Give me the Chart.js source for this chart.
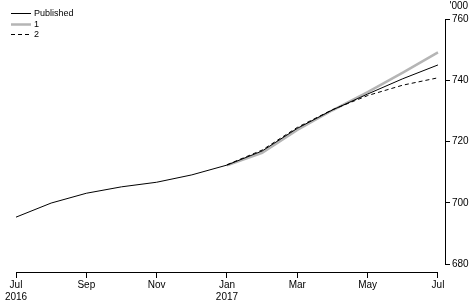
<!DOCTYPE html>
<html>
<head>
<meta charset="utf-8">
<script src="https://cdn.jsdelivr.net/npm/chart.js@4"></script>
<style>
  html, body { margin: 0; padding: 0; background: #fff; }
  #wrap { width: 472px; height: 302px; position: relative; }
</style>
</head>
<body>
<div id="wrap"><canvas id="chart"></canvas></div>
<script>
/* ---- data: monthly, Jul 2016 – Jul 2017 ('000) ---- */
const MONTHS    = ['Jul', 'Aug', 'Sep', 'Oct', 'Nov', 'Dec', 'Jan', 'Feb', 'Mar', 'Apr', 'May', 'Jun', 'Jul'];
const YEARS     = ['2016', '', '', '', '', '', '2017', '', '', '', '', '', ''];
const PUBLISHED = [695.3, 699.9, 703.1, 705.2, 706.7, 709.1, 712.3, 716.9, 724.3, 730.3, 735.5, 740.5, 745.0];
const SERIES_1  = [null, null, null, null, null, null, 712.2, 716.3, 723.8, 730.2, 736.1, 742.5, 749.1];
const SERIES_2  = [null, null, null, null, null, null, 712.4, 717.2, 724.6, 730.4, 735.0, 738.4, 740.8];
const Y_TICKS   = [680, 700, 720, 740, 760];
const X_TICKS   = [0, 2, 4, 6, 8, 10, 12];

const FONT = 'Arial, "Liberation Sans", sans-serif';
const pts = arr => arr.map((v, i) => ({ x: i, y: v }));

/* axis lines + legend + unit label */
const decor = {
  id: 'decor',
  afterDraw(chart) {
    const { ctx, chartArea, scales } = chart;
    const xs = scales.x, ys = scales.y;
    ctx.save();
    ctx.strokeStyle = '#000';
    ctx.lineWidth = 1;
    ctx.beginPath();
    const ax = Math.round(chartArea.right) + 0.5;
    ctx.moveTo(ax, ys.getPixelForValue(760));
    ctx.lineTo(ax, ys.getPixelForValue(680));
    const ay = Math.round(chartArea.bottom) + 0.5;
    ctx.moveTo(xs.getPixelForValue(0), ay);
    ctx.lineTo(xs.getPixelForValue(12), ay);
    ctx.stroke();

    ctx.fillStyle = '#000';
    ctx.font = '10px ' + FONT;
    ctx.textBaseline = 'middle';
    ctx.textAlign = 'left';
    ctx.fillText("'000", ax + 4, 6);

    // legend (in dataset order)
    ctx.font = '9px ' + FONT;
    chart.data.datasets.forEach((ds, i) => {
      const y = Math.round(13 + i * 10.5) + 0.5;
      ctx.beginPath();
      ctx.strokeStyle = ds.borderColor;
      ctx.lineWidth = ds.borderWidth;
      ctx.setLineDash(ds.borderDash || []);
      ctx.moveTo(11, y);
      ctx.lineTo(31, y);
      ctx.stroke();
      ctx.setLineDash([]);
      ctx.fillText(ds.label, 34, y);
    });
    ctx.restore();
  }
};

new Chart(document.getElementById('chart'), {
  type: 'line',
  data: {
    datasets: [
      { label: 'Published', data: pts(PUBLISHED), borderColor: '#000', borderWidth: 1, order: 1 },
      { label: '1', data: pts(SERIES_1), borderColor: '#b5b5b5', borderWidth: 2.5, order: 3 },
      { label: '2', data: pts(SERIES_2), borderColor: '#000', borderWidth: 1, borderDash: [4, 3], order: 2 }
    ]
  },
  options: {
    responsive: true,
    maintainAspectRatio: false,
    animation: false,
    layout: { padding: { left: 16, top: 19, right: 0, bottom: 0 } },
    elements: { point: { radius: 0 }, line: { tension: 0 } },
    plugins: { legend: { display: false }, tooltip: { enabled: false } },
    scales: {
      x: {
        type: 'linear',
        min: 0,
        max: 12.2,
        afterBuildTicks: s => { s.ticks = X_TICKS.map(v => ({ value: v })); },
        afterFit: s => { s.height = 30; },
        grid: { drawOnChartArea: false, color: '#000', tickLength: 6 },
        border: { display: false },
        ticks: {
          color: '#000',
          font: { size: 10, family: FONT },
          padding: 1,
          maxRotation: 0,
          autoSkip: false,
          callback: v => YEARS[v] ? [MONTHS[v], YEARS[v]] : MONTHS[v]
        }
      },
      y: {
        position: 'right',
        min: 677.39,
        max: 760,
        afterBuildTicks: s => { s.ticks = Y_TICKS.map(v => ({ value: v })); },
        afterFit: s => { s.width = 27; },
        grid: { drawOnChartArea: false, color: '#000', tickLength: 5 },
        border: { display: false },
        ticks: { color: '#000', font: { size: 10, family: FONT }, padding: 2 }
      }
    }
  },
  plugins: [decor]
});
</script>
</body>
</html>
